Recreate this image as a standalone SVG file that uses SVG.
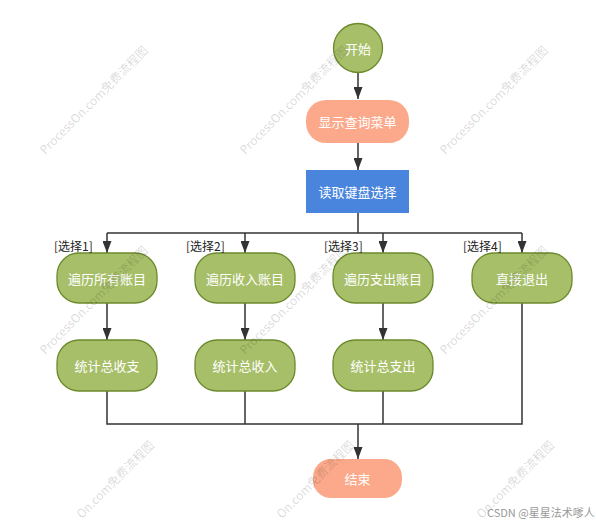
<svg xmlns="http://www.w3.org/2000/svg" width="596" height="523" viewBox="0 0 596 523">
<defs>
<style>
.g{fill:#A8BF6A;stroke:#6B8A2C;stroke-width:1.3}
.s{fill:#FBA98A;stroke:none}
.b{fill:#4A85DD;stroke:none}
.t{font-family:"Microsoft YaHei","Noto Sans CJK SC",sans-serif;font-size:13px;fill:#fff;text-anchor:middle;dominant-baseline:central}
.l{font-family:"Microsoft YaHei","Noto Sans CJK SC",sans-serif;font-size:12px;fill:#222}
.c{fill:none;stroke:#333;stroke-width:1.5}
.w{font-family:"Microsoft YaHei","Noto Sans CJK SC",sans-serif;font-size:12px;fill:#000;fill-opacity:0.16}
.we{font-family:"Microsoft YaHei","Noto Sans CJK SC",sans-serif;font-size:12px;fill:#000;fill-opacity:0.16;text-anchor:end}
.cs{font-family:"Microsoft YaHei","Noto Sans CJK SC",sans-serif;font-size:11px;fill:#999}
</style>
<marker id="arr" viewBox="0 0 12 9" refX="12" refY="4.5" markerWidth="12" markerHeight="9" markerUnits="userSpaceOnUse" orient="auto">
<path d="M0,0 L12,4.5 L0,9 z" fill="#333"/>
</marker>
</defs>
<rect width="596" height="523" fill="#fff"/>

<g id="connectors">
<path class="c" d="M358,73 V99" marker-end="url(#arr)"/>
<path class="c" d="M358,143 V170" marker-end="url(#arr)"/>
<path class="c" d="M358,213 V233"/>
<path class="c" d="M107,233 H522"/>
<path class="c" d="M107,233 V253" marker-end="url(#arr)"/>
<path class="c" d="M245,233 V253" marker-end="url(#arr)"/>
<path class="c" d="M383,233 V253" marker-end="url(#arr)"/>
<path class="c" d="M522,233 V253" marker-end="url(#arr)"/>
<path class="c" d="M107,303 V340" marker-end="url(#arr)"/>
<path class="c" d="M245,303 V340" marker-end="url(#arr)"/>
<path class="c" d="M383,303 V340" marker-end="url(#arr)"/>
<path class="c" d="M107,391 V424 H522 V303"/>
<path class="c" d="M245,391 V424"/>
<path class="c" d="M383,391 V424"/>
<path class="c" d="M358,424 V459" marker-end="url(#arr)"/>
</g>

<g id="start"><circle class="g" cx="358" cy="48" r="24.5"/><text class="t" x="358" y="48">开始</text></g>
<g id="menu"><rect class="s" x="306" y="100" width="103" height="43" rx="20"/><text class="t" x="357.5" y="121.5">显示查询菜单</text></g>
<g id="read"><rect class="b" x="306" y="170" width="103" height="43"/><text class="t" x="357.5" y="191.5">读取键盘选择</text></g>

<g id="all"><rect class="g" x="57" y="253" width="100" height="50" rx="22"/><text class="t" x="107" y="278">遍历所有账目</text></g>
<g id="income"><rect class="g" x="195" y="253" width="100" height="50" rx="22"/><text class="t" x="245" y="278">遍历收入账目</text></g>
<g id="expense"><rect class="g" x="333" y="253" width="100" height="50" rx="22"/><text class="t" x="383" y="278">遍历支出账目</text></g>
<g id="exit"><rect class="g" x="472" y="253" width="100" height="50" rx="22"/><text class="t" x="522" y="278">直接退出</text></g>

<g id="sumall"><rect class="g" x="57" y="340" width="100" height="51" rx="22"/><text class="t" x="107" y="365.5">统计总收支</text></g>
<g id="suminc"><rect class="g" x="195" y="340" width="100" height="51" rx="22"/><text class="t" x="245" y="365.5">统计总收入</text></g>
<g id="sumexp"><rect class="g" x="333" y="340" width="100" height="51" rx="22"/><text class="t" x="383" y="365.5">统计总支出</text></g>

<g id="end"><rect class="s" x="313" y="459" width="89" height="39" rx="18"/><text class="t" x="357.5" y="478.5">结束</text></g>

<g id="labels">
<text class="l" x="54" y="251">[选择1]</text>
<text class="l" x="186" y="251">[选择2]</text>
<text class="l" x="324" y="251">[选择3]</text>
<text class="l" x="463" y="251">[选择4]</text>
</g>

<g id="watermarks">
<text class="w" transform="translate(45,155) rotate(-45)">ProcessOn.com免费流程图</text>
<text class="w" transform="translate(245,155) rotate(-45)">ProcessOn.com免费流程图</text>
<text class="w" transform="translate(445,155) rotate(-45)">ProcessOn.com免费流程图</text>
<text class="w" transform="translate(45,355) rotate(-45)">ProcessOn.com免费流程图</text>
<text class="w" transform="translate(245,355) rotate(-45)">ProcessOn.com免费流程图</text>
<text class="w" transform="translate(445,355) rotate(-45)">ProcessOn.com免费流程图</text>
<text class="we" transform="translate(155,446) rotate(-45)">On.com免费流程图</text>
<text class="we" transform="translate(355,446) rotate(-45)">On.com免费流程图</text>
<text class="we" transform="translate(555,446) rotate(-45)">On.com免费流程图</text>
<text class="cs" x="487" y="517">CSDN @星星法术嗲人</text>
</g>
</svg>
